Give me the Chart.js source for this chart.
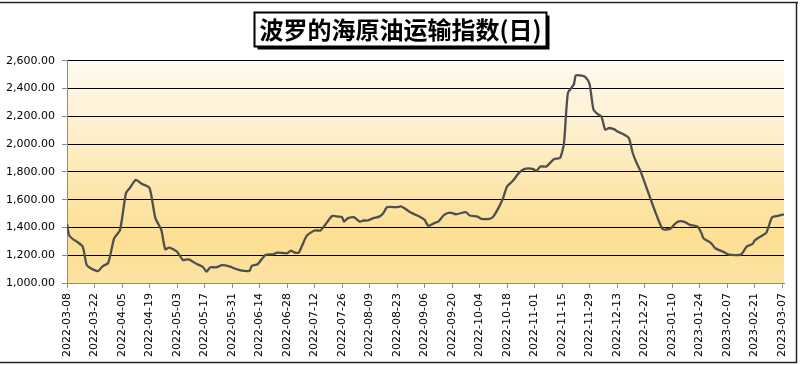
<!DOCTYPE html>
<html>
<head>
<meta charset="utf-8">
<script src="https://cdn.jsdelivr.net/npm/chart.js@4.4.1/dist/chart.umd.min.js"></script>
<style>
html, body { margin:0; padding:0; background:#fff; }
#wrap { width:801px; height:365px; }
</style>
</head>
<body>
<div id="wrap"><canvas id="myChart" width="801" height="365"></canvas></div>
<script>
const chartTitle = '波罗的海原油运输指数(日)';
const startDate = '2022-03-08';

// days since 2022-03-08
const days = [
  0, 1, 3, 5, 8, 10, 12, 15, 16, 18, 21, 24, 27, 30, 32, 35, 38, 42, 45, 48,
  50, 52, 56, 59, 62, 66, 69, 71, 73, 76, 79, 83, 85, 89, 93, 94, 97, 101, 105, 107,
  112, 114, 116, 118, 122, 126, 129, 131, 135, 138, 140, 141, 143, 146, 149, 151, 153, 156, 159, 161,
  163, 168, 170, 172, 175, 180, 182, 184, 187, 189, 192, 195, 198, 203, 205, 209, 211, 215, 217, 220,
  222, 224, 227, 230, 233, 237, 239, 241, 244, 248, 251, 253, 255, 258, 259, 262, 264, 266, 268, 270,
  272, 274, 276, 279, 280, 283, 286, 288, 290, 292, 303, 307, 309, 311, 314, 317, 321, 323, 324, 328,
  330, 334, 337, 343, 346, 349, 350, 353, 356, 358, 359, 362, 365
];
const values = [
  1425, 1347, 1315, 1298, 1262, 1130, 1106, 1087, 1087, 1118, 1146, 1322, 1382, 1647, 1684, 1743, 1714, 1684, 1467, 1382,
  1243, 1255, 1226, 1166, 1170, 1137, 1118, 1082, 1113, 1113, 1128, 1118, 1106, 1089, 1089, 1123, 1135, 1202, 1207, 1219,
  1214, 1233, 1219, 1219, 1339, 1378, 1378, 1411, 1483, 1478, 1474, 1442, 1467, 1474, 1442, 1450, 1450, 1467, 1478, 1503,
  1546, 1546, 1551, 1536, 1507, 1474, 1455, 1411, 1431, 1442, 1491, 1507, 1495, 1510, 1486, 1478, 1462, 1462, 1478, 1550,
  1611, 1695, 1736, 1791, 1822, 1822, 1808, 1839, 1839, 1893, 1900, 2008, 2369, 2429, 2494, 2494, 2482, 2434, 2249, 2218,
  2200, 2104, 2116, 2104, 2092, 2073, 2044, 1936, 1864, 1804, 1390, 1390, 1419, 1442, 1442, 1419, 1406, 1358, 1322, 1286,
  1250, 1226, 1204, 1204, 1262, 1282, 1305, 1334, 1363, 1442, 1474, 1483, 1495
];
const tickLabels = [
  '2022-03-08', '2022-03-22', '2022-04-05', '2022-04-19', '2022-05-03', '2022-05-17', '2022-05-31',
  '2022-06-14', '2022-06-28', '2022-07-12', '2022-07-26', '2022-08-09', '2022-08-23', '2022-09-06',
  '2022-09-20', '2022-10-04', '2022-10-18', '2022-11-01', '2022-11-15', '2022-11-29', '2022-12-13',
  '2022-12-27', '2023-01-10', '2023-01-24', '2023-02-07', '2023-02-21', '2023-03-07'
];

const DAY = 86400000;
function toUTC(s) { const p = s.split('-').map(Number); return Date.UTC(p[0], p[1] - 1, p[2]); }
const t0 = toUTC(startDate);
function dayOf(s) { return Math.round((toUTC(s) - t0) / DAY); }
function dateOf(n) { return new Date(t0 + n * DAY).toISOString().slice(0, 10); }

const points = days.map((d, i) => ({ x: d, y: values[i] }));
const tickDays = tickLabels.map(dayOf);

const titleFont = 'bold 24px "Noto Sans CJK SC"';

const deco = {
  id: 'deco',
  beforeDraw(chart) {
    const ctx = chart.ctx, a = chart.chartArea;
    ctx.save();
    // plot background
    const g = ctx.createLinearGradient(0, a.top, 0, a.bottom);
    g.addColorStop(0, '#fffaf0');
    g.addColorStop(0.45, '#fdebbd');
    g.addColorStop(0.8, '#fcdf92');
    g.addColorStop(1, '#fbe3a2');
    ctx.fillStyle = g;
    ctx.fillRect(a.left, a.top, a.right - a.left, a.bottom - a.top);

    // title box with shadow, centred on the whole picture
    ctx.font = titleFont;
    const w = ctx.measureText(chartTitle).width;
    const cx = chart.width / 2;
    const bx = Math.round(cx - w / 2 - 5) + 0.5, by = 12.5, bw = Math.round(w + 10), bh = 34;
    ctx.fillStyle = '#000';
    ctx.fillRect(bx + 3, by + 3, bw, bh);
    ctx.fillStyle = '#fff';
    ctx.fillRect(bx, by, bw, bh);
    ctx.strokeStyle = '#000';
    ctx.lineWidth = 2;
    ctx.strokeRect(bx, by, bw, bh);
    ctx.fillStyle = '#000';
    ctx.textAlign = 'center';
    ctx.textBaseline = 'middle';
    ctx.fillText(chartTitle, cx, by + bh / 2 + 0.5);

    // outer frame
    ctx.lineWidth = 1.5;
    ctx.strokeStyle = '#222';
    ctx.beginPath();
    ctx.moveTo(0, 2.5); ctx.lineTo(798, 2.5);
    ctx.moveTo(796.5, 2.5); ctx.lineTo(796.5, 363);
    ctx.moveTo(0, 362.5); ctx.lineTo(797, 362.5);
    ctx.stroke();
    ctx.restore();
  }
};

Chart.defaults.font.family = '"DejaVu Sans", Verdana, sans-serif';
Chart.defaults.font.size = 11;
Chart.defaults.color = '#000';

let myChart = document.getElementById('myChart').getContext('2d');

let baltic = new Chart(myChart, {
  type: 'line',
  data: {
    datasets: [{
      data: points,
      borderColor: '#4f4f4f',
      borderWidth: 2.3,
      pointRadius: 0,
      tension: 0.2,
      fill: false
    }]
  },
  options: {
    responsive: false,
    animation: false,
    layout: { padding: { left: 0, right: 17, top: 0, bottom: 2 } },
    plugins: {
      legend: { display: false },
      tooltip: { enabled: false },
      title: {
        // keeps the space in the layout; the text itself is drawn in the box by the plugin
        display: true,
        text: chartTitle,
        color: 'rgba(0,0,0,0)',
        font: { family: '"Noto Sans CJK SC"', size: 24, weight: 'bold', lineHeight: 1.2 },
        padding: { top: 14, bottom: 18 }
      }
    },
    scales: {
      x: {
        type: 'linear',
        min: 0,
        max: 365,
        afterBuildTicks(scale) { scale.ticks = tickDays.map(v => ({ value: v })); },
        afterFit(scale) { scale.height = 80; },
        ticks: {
          autoSkip: false,
          minRotation: 90,
          maxRotation: 90,
          padding: 5,
          callback: v => dateOf(v)
        },
        grid: { drawOnChartArea: false, drawTicks: true, tickLength: 5, tickColor: '#8c8c8c' },
        border: { color: '#8c8c8c', width: 1 }
      },
      y: {
        min: 1000,
        max: 2600,
        afterFit(scale) { scale.width = 67; },
        ticks: {
          stepSize: 200,
          padding: 7,
          callback: v => v.toLocaleString('en-US', { minimumFractionDigits: 2, maximumFractionDigits: 2 })
        },
        grid: {
          color: c => (c.tick && c.tick.value === 1000) ? '#8c8c8c' : '#000',
          lineWidth: 1,
          tickLength: 5,
          tickColor: '#8c8c8c'
        },
        border: { color: '#8c8c8c', width: 1 }
      }
    }
  },
  plugins: [deco]
});
</script>
</body>
</html>
